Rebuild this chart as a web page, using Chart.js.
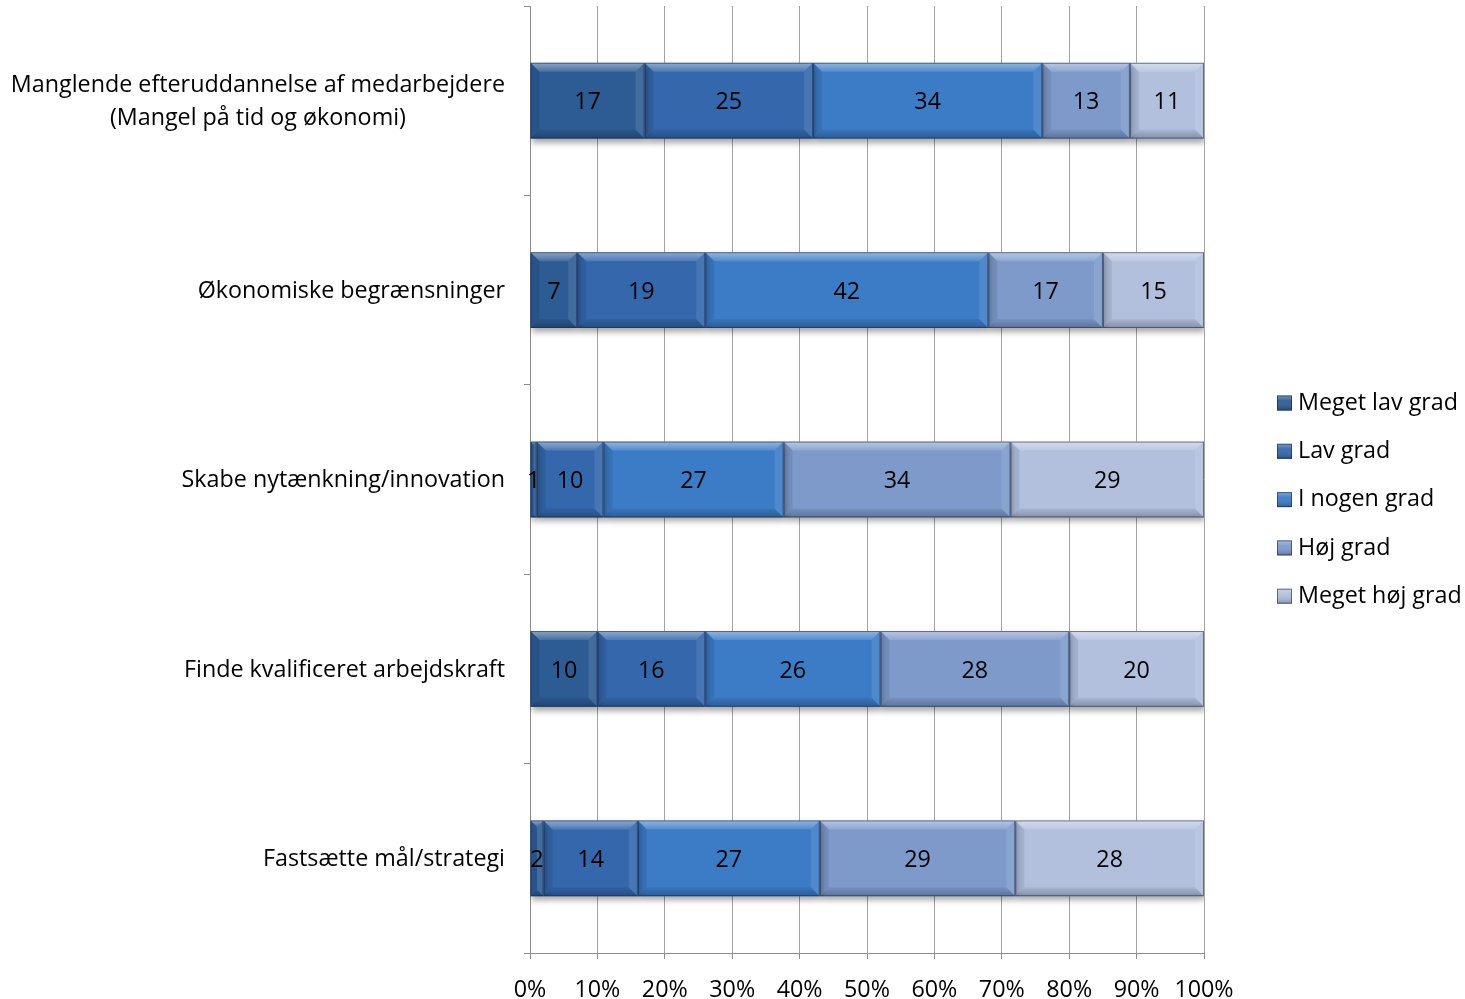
<!DOCTYPE html>
<html>
<head>
<meta charset="utf-8">
<script src="https://cdn.jsdelivr.net/npm/chart.js@4/dist/chart.umd.min.js"></script>
<style>
  html, body { margin: 0; padding: 0; background: #ffffff; }
  #wrap { width: 1465px; height: 999px; position: relative; }
</style>
</head>
<body>
<div id="wrap"><canvas id="chart" width="1465" height="999"></canvas></div>
<script>
// Categories (first one wraps over two lines)
const categories = [
  ['Manglende efteruddannelse af medarbejdere', '(Mangel på tid og økonomi)'],
  'Økonomiske begrænsninger',
  'Skabe nytænkning/innovation',
  'Finde kvalificeret arbejdskraft',
  'Fastsætte mål/strategi'
];

const seriesNames = ['Meget lav grad', 'Lav grad', 'I nogen grad', 'Høj grad', 'Meget høj grad'];

// Answer shares per category (labels on the bars)
const megetLavGrad = [17, 7, 1, 10, 2];
const lavGrad      = [25, 19, 10, 16, 14];
const iNogenGrad   = [34, 42, 27, 26, 27];
const hoejGrad     = [13, 17, 34, 28, 29];
const megetHoejGrad = [11, 15, 29, 20, 28];

const xTickLabels = ['0%', '10%', '20%', '30%', '40%', '50%', '60%', '70%', '80%', '90%', '100%'];

const seriesColors = ['#2d5b94', '#3467ac', '#3c7bc6', '#7d9acb', '#b2c0de'];

const FONT = '"Open Sans", Lato, sans-serif';
const FS = 23.3;

const allSeries = [megetLavGrad, lavGrad, iNogenGrad, hoejGrad, megetHoejGrad];
// Row totals so each bar is stacked to 100 %
const rowTotals = categories.map((_, i) => allSeries.reduce((s, arr) => s + arr[i], 0));

const datasets = allSeries.map((arr, k) => ({
  label: seriesNames[k],
  raw: arr,
  data: arr.map((v, i) => v / rowTotals[i] * 100),
  backgroundColor: seriesColors[k],
  borderWidth: 0,
  barPercentage: 0.4,
  categoryPercentage: 1.0
}));

// Soft drop shadow under the bars
const barShadow = {
  id: 'barShadow',
  beforeDatasetsDraw(chart) {
    const ctx = chart.ctx;
    ctx.save();
    ctx.shadowColor = 'rgba(0,0,0,0.35)';
    ctx.shadowBlur = 6;
    ctx.shadowOffsetX = 1;
    ctx.shadowOffsetY = 4;
  },
  afterDatasetsDraw(chart) {
    chart.ctx.restore();
  }
};

// Beveled look for every bar segment, plus the value labels
const bevel = {
  id: 'bevel',
  afterDatasetsDraw(chart) {
    const ctx = chart.ctx;
    chart.data.datasets.forEach((ds, di) => {
      const meta = chart.getDatasetMeta(di);
      meta.data.forEach((el) => {
        const p = el.getProps(['x', 'y', 'base', 'height'], true);
        const l = Math.min(p.x, p.base), r = Math.max(p.x, p.base);
        const t = p.y - p.height / 2, b = p.y + p.height / 2;
        const w = r - l, h = b - t;
        const bv = Math.min(9, w / 2, h / 2);
        ctx.save();
        // top highlight
        let g = ctx.createLinearGradient(0, t, 0, t + bv);
        g.addColorStop(0, 'rgba(255,255,255,0.45)');
        g.addColorStop(1, 'rgba(255,255,255,0.12)');
        ctx.fillStyle = g;
        ctx.beginPath();
        ctx.moveTo(l, t); ctx.lineTo(r, t); ctx.lineTo(r - bv, t + bv); ctx.lineTo(l + bv, t + bv); ctx.closePath();
        ctx.fill();
        // bottom shade
        g = ctx.createLinearGradient(0, b - bv, 0, b);
        g.addColorStop(0, 'rgba(0,0,0,0.05)');
        g.addColorStop(1, 'rgba(0,0,0,0.25)');
        ctx.fillStyle = g;
        ctx.beginPath();
        ctx.moveTo(l, b); ctx.lineTo(r, b); ctx.lineTo(r - bv, b - bv); ctx.lineTo(l + bv, b - bv); ctx.closePath();
        ctx.fill();
        // left shade
        ctx.fillStyle = 'rgba(0,0,0,0.08)';
        ctx.beginPath();
        ctx.moveTo(l, t); ctx.lineTo(l + bv, t + bv); ctx.lineTo(l + bv, b - bv); ctx.lineTo(l, b); ctx.closePath();
        ctx.fill();
        // right light
        ctx.fillStyle = 'rgba(255,255,255,0.10)';
        ctx.beginPath();
        ctx.moveTo(r, t); ctx.lineTo(r - bv, t + bv); ctx.lineTo(r - bv, b - bv); ctx.lineTo(r, b); ctx.closePath();
        ctx.fill();
        // outline
        ctx.strokeStyle = 'rgba(25,40,70,0.55)';
        ctx.lineWidth = 1;
        ctx.strokeRect(l + 0.5, t + 0.5, w - 1, h - 1);
        ctx.restore();
      });
    });
    // value labels
    ctx.save();
    ctx.font = FS + 'px ' + FONT;
    ctx.fillStyle = '#000000';
    ctx.textAlign = 'center';
    ctx.textBaseline = 'middle';
    chart.data.datasets.forEach((ds, di) => {
      const meta = chart.getDatasetMeta(di);
      meta.data.forEach((el, i) => {
        const p = el.getProps(['x', 'y', 'base'], true);
        ctx.fillText(String(ds.raw[i]), (p.x + p.base) / 2, p.y + 2);
      });
    });
    ctx.restore();
  }
};

// Category labels: block right-aligned to the axis, lines centred within the block
const categoryLabels = {
  id: 'categoryLabels',
  afterDraw(chart) {
    const ctx = chart.ctx;
    const scale = chart.scales.y;
    const rightEdge = scale.right - 25;
    const lineH = 33;
    ctx.save();
    ctx.font = FS + 'px ' + FONT;
    ctx.fillStyle = '#000000';
    ctx.textAlign = 'center';
    ctx.textBaseline = 'middle';
    chart.data.labels.forEach((lab, i) => {
      const lines = Array.isArray(lab) ? lab : [lab];
      const widest = Math.max(...lines.map(s => ctx.measureText(s).width));
      const cx = rightEdge - widest / 2;
      const cy = scale.getPixelForTick(i) + 1;
      const y0 = cy - (lines.length - 1) * lineH / 2;
      lines.forEach((s, j) => ctx.fillText(s, cx, y0 + j * lineH));
    });
    ctx.restore();
  }
};

// Legend on the right
const sideLegend = {
  id: 'sideLegend',
  afterDraw(chart) {
    const ctx = chart.ctx;
    const x0 = 1277, y0 = 403, step = 48.3, box = 15;
    ctx.save();
    ctx.font = FS + 'px ' + FONT;
    ctx.textAlign = 'left';
    ctx.textBaseline = 'middle';
    chart.data.datasets.forEach((ds, k) => {
      const cy = y0 + k * step;
      const top = cy - box / 2;
      ctx.fillStyle = ds.backgroundColor;
      ctx.fillRect(x0, top, box, box);
      const g = ctx.createLinearGradient(0, top, 0, top + box);
      g.addColorStop(0, 'rgba(255,255,255,0.35)');
      g.addColorStop(0.35, 'rgba(255,255,255,0.05)');
      g.addColorStop(1, 'rgba(0,0,0,0.25)');
      ctx.fillStyle = g;
      ctx.fillRect(x0, top, box, box);
      ctx.strokeStyle = 'rgba(25,40,70,0.6)';
      ctx.lineWidth = 1;
      ctx.strokeRect(x0 + 0.5, top + 0.5, box - 1, box - 1);
      ctx.fillStyle = '#000000';
      ctx.fillText(ds.label, x0 + box + 6, cy);
    });
    ctx.restore();
  }
};

new Chart(document.getElementById('chart'), {
  type: 'bar',
  data: { labels: categories, datasets },
  options: {
    indexAxis: 'y',
    responsive: false,
    animation: false,
    devicePixelRatio: 1,
    layout: { padding: { top: 6, right: 261, bottom: 0, left: 0 } },
    plugins: {
      legend: { display: false },
      tooltip: { enabled: false }
    },
    scales: {
      x: {
        stacked: true,
        min: 0,
        max: 100,
        ticks: {
          stepSize: 10,
          color: '#000000',
          font: { family: FONT, size: FS },
          padding: 17,
          maxRotation: 0,
          callback: (v, i) => xTickLabels[i]
        },
        grid: { color: '#a3a3a3', lineWidth: 1, tickLength: 6, tickColor: '#8c8c8c' },
        border: { color: '#8c8c8c' },
        afterFit(scale) { scale.height = 46; }
      },
      y: {
        stacked: true,
        ticks: { display: false },
        grid: { offset: true, drawOnChartArea: false, tickLength: 6, color: '#8c8c8c' },
        border: { color: '#8c8c8c' },
        afterFit(scale) { scale.width = 530; }
      }
    }
  },
  plugins: [barShadow, bevel, categoryLabels, sideLegend]
});
</script>
</body>
</html>
